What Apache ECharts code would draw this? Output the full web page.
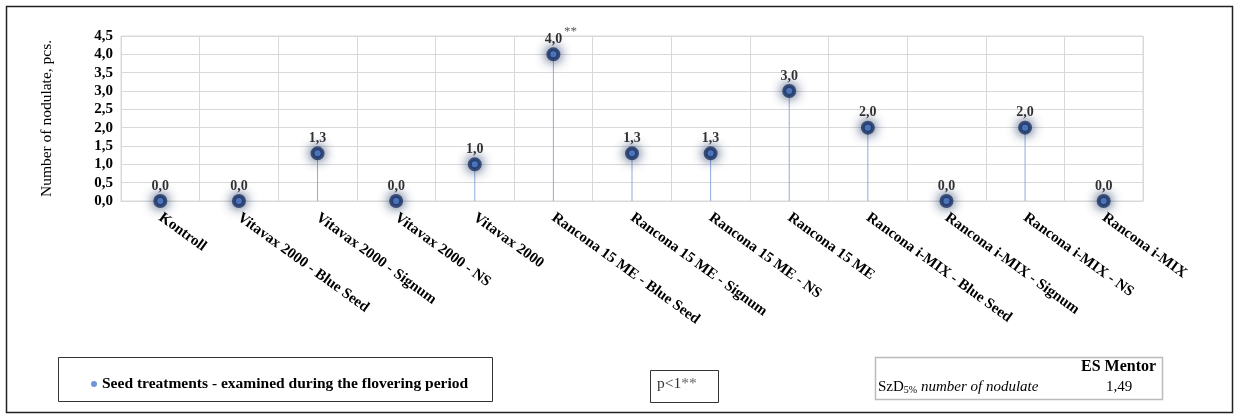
<!DOCTYPE html>
<html>
<head>
<meta charset="utf-8">
<script src="https://cdn.jsdelivr.net/npm/echarts@6/dist/echarts.min.js"></script>
<style>
html,body{margin:0;padding:0;background:#fff;}
#chart{width:1239px;height:419px;}
</style>
</head>
<body>
<div id="chart"></div>
<script>
var categories = ['Kontroll','Vitavax 2000 - Blue Seed','Vitavax 2000 - Signum','Vitavax 2000 - NS','Vitavax 2000','Rancona 15 ME - Blue Seed','Rancona 15 ME - Signum','Rancona 15 ME - NS','Rancona 15 ME','Rancona i-MIX - Blue Seed','Rancona i-MIX - Signum','Rancona i-MIX - NS','Rancona i-MIX'];
var values = [0.0, 0.0, 1.3, 0.0, 1.0, 4.0, 1.3, 1.3, 3.0, 2.0, 0.0, 2.0, 0.0];
var significance = ['', '', '', '', '', '**', '', '', '', '', '', '', ''];
var seriesName = 'Seed treatments - examined during the flovering period';
var yAxisName = 'Number of nodulate, pcs.';
var yMin = 0, yMax = 4.5, yInterval = 0.5;
var pNote = 'p<1**';
var tableHeader = 'ES Mentor';
var tableRowLabel = 'number of nodulate';
var tableRowValue = '1,49';

var serif = '"Liberation Serif","Times New Roman",serif';
function fmt(v){ return v.toFixed(1).replace('.', ','); }

var sigMarks = [];
significance.forEach(function(s, i){
  if (s) sigMarks.push({ coord: [categories[i], values[i]], value: s });
});

var chart = echarts.init(document.getElementById('chart'));
var option = {
  backgroundColor: '#fff',
  animation: false,
  grid: { left: 121, right: 96, top: 36, bottom: 218, show: true, borderColor: '#d9d9d9', borderWidth: 1 },
  legend: {
    data: [seriesName],
    left: 86, top: 371,
    icon: 'circle', itemWidth: 6, itemHeight: 6, itemGap: 6,
    itemStyle: { borderWidth: 0, shadowBlur: 0, color: '#4a7bd0' },
    textStyle: { fontFamily: serif, fontWeight: 'bold', fontSize: 15.5, color: '#000' }
  },
  xAxis: {
    type: 'category', data: categories, boundaryGap: true,
    axisLine: { lineStyle: { color: '#d9d9d9' } },
    axisTick: { show: false },
    splitLine: { show: true, lineStyle: { color: '#d9d9d9' } },
    axisLabel: { interval: 0, rotate: -36, margin: 15, fontFamily: serif, fontWeight: 'bold', fontSize: 15, color: '#000' }
  },
  yAxis: {
    type: 'value', min: yMin, max: yMax, interval: yInterval,
    name: yAxisName, nameLocation: 'middle', nameGap: 66,
    nameTextStyle: { fontFamily: serif, fontSize: 15.5, color: '#000' },
    axisLine: { show: false }, axisTick: { show: false },
    splitLine: { lineStyle: { color: '#d9d9d9' } },
    axisLabel: { formatter: function(v){ return fmt(v); }, margin: 8, fontFamily: serif, fontWeight: 'bold', fontSize: 15, color: '#000' }
  },
  series: [
    {
      type: 'bar', name: 'stem', data: values, barWidth: 1, silent: true,
      itemStyle: { color: '#8faadc' }, z: 1
    },
    {
      type: 'scatter', name: seriesName, data: values, symbolSize: 10, z: 3,
      itemStyle: { color: '#4d86e6', borderColor: '#1c3260', borderWidth: 4, shadowBlur: 12, shadowColor: '#1c3260' },
      label: {
        show: true, position: 'top', distance: 1,
        formatter: function(p){ return fmt(p.value); },
        fontFamily: serif, fontWeight: 'bold', fontSize: 14, color: '#000'
      },
      markPoint: {
        symbol: 'circle', symbolSize: 1, silent: true,
        itemStyle: { color: 'rgba(0,0,0,0)', borderWidth: 0, shadowBlur: 0 },
        label: {
          show: true, position: 'inside', offset: [17, -23],
          formatter: function(p){ return p.value; },
          fontFamily: serif, fontSize: 13, color: '#555'
        },
        data: sigMarks
      }
    }
  ],
  graphic: [
    { type: 'rect', shape: { x: 6.5, y: 6.5, width: 1226, height: 406 }, style: { fill: null, stroke: '#222', lineWidth: 1.5 }, silent: true },
    { type: 'rect', shape: { x: 58.5, y: 357.5, width: 434, height: 44 }, style: { fill: null, stroke: '#333', lineWidth: 1 }, silent: true },
    { type: 'rect', shape: { x: 650.5, y: 370.5, width: 68, height: 32 }, style: { fill: null, stroke: '#333', lineWidth: 1 }, silent: true },
    { type: 'text', left: 657, top: 376, style: { text: '{a|p<1}{b|**}', rich: { a: { fontFamily: serif, fontSize: 15.5, fill: '#333' }, b: { fontFamily: serif, fontSize: 15.5, fill: '#666' } } }, silent: true },
    { type: 'rect', shape: { x: 875.5, y: 357.5, width: 287, height: 42 }, style: { fill: null, stroke: '#bbb', lineWidth: 1.5 }, silent: true },
    { type: 'text', left: 1081, top: 359, style: { text: tableHeader, fontFamily: serif, fontWeight: 'bold', fontSize: 16, fill: '#000' }, silent: true },
    { type: 'text', left: 878, top: 380, style: { text: '{a|SzD}{sub|5%}{b| ' + tableRowLabel + '}', rich: { a: { fontFamily: serif, fontSize: 15, fill: '#000' }, sub: { fontFamily: serif, fontSize: 10, fill: '#000', verticalAlign: 'bottom', padding: [6, 0, 0, 0] }, b: { fontFamily: serif, fontStyle: 'italic', fontSize: 15, fill: '#000' } } }, silent: true },
    { type: 'text', left: 1106, top: 380, style: { text: tableRowValue, fontFamily: serif, fontSize: 15, fill: '#000' }, silent: true }
  ]
};
chart.setOption(option);
</script>
</body>
</html>
